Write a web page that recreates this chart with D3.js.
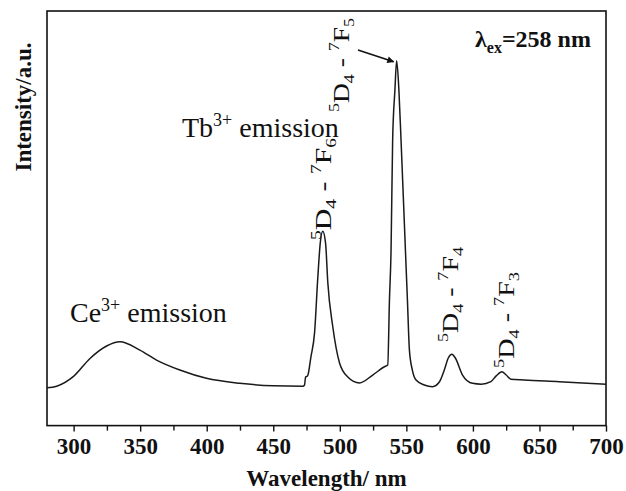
<!DOCTYPE html>
<html>
<head>
<meta charset="utf-8">
<script src="https://cdn.jsdelivr.net/npm/d3@7/dist/d3.min.js"></script>
<style>
  html, body { margin: 0; padding: 0; background: #fff; }
  svg { display: block; }
  text, tspan { font-family: "Liberation Serif", "Times New Roman", serif; fill: #111; }
</style>
</head>
<body>
<svg id="chart" width="626" height="491"></svg>
<script>
// Emission spectrum (λex = 258 nm)
const wavelength = [280, 287.3, 299.7, 312.3, 324.8, 334.8, 349.8, 362.3, 379.8, 399.8, 424.8, 449.8,
  472.2, 473.5, 474.3, 475.8, 478.3, 481, 483.5, 485.3, 487.2, 489.3, 491, 494.7, 499.8, 505.8,
  514.8, 524.7, 533.5, 536, 537.3, 538.5, 539.7, 541.4, 542.7, 544.4, 546, 549.3, 550.8, 552.3,
  554.5, 557.3, 563.5, 569.7, 574.8, 578.5, 581.5, 584.3, 586.8, 592.2, 599.7, 606.3, 613.5,
  617.5, 621.8, 625, 628.5, 638.5, 664.8, 700];
const intensity = [91, 95, 118, 162, 192, 202, 182, 158, 134, 114, 102, 96,
  95, 98, 117, 120, 166, 223, 359, 440, 469, 440, 344, 239, 151, 118,
  103, 122, 142, 146, 303, 423, 689, 809, 880, 809, 689, 423, 303, 182,
  134, 110, 98, 94, 105, 134, 163, 172, 163, 122, 102, 100, 106,
  120, 130, 122, 112, 110, 106, 100];

const xTicks = [300, 350, 400, 450, 500, 550, 600, 650, 700];
const xMinorTicks = [325, 375, 425, 475, 525, 575, 625, 675];
const xDomain = [280, 700];
const yDomain = [0, 1000];

const svg = d3.select("#chart");
const m = { left: 47, right: 20, top: 11, bottom: 65.4 };
const W = 626, H = 491;
const x = d3.scaleLinear().domain(xDomain).range([m.left, W - m.right]);
const y = d3.scaleLinear().domain(yDomain).range([H - m.bottom, m.top]);
const SERIF = '"Liberation Serif", "Times New Roman", serif';

// frame
svg.append("rect")
  .attr("x", m.left).attr("y", m.top)
  .attr("width", W - m.right - m.left).attr("height", H - m.bottom - m.top)
  .attr("fill", "none").attr("stroke", "#111").attr("stroke-width", 1.6);

// bottom axis
const gx = svg.append("g").attr("transform", `translate(0,${H - m.bottom})`);
gx.call(d3.axisBottom(x).tickValues(xTicks).tickSize(6).tickPadding(6).tickFormat(d3.format("d")));
gx.append("g").call(d3.axisBottom(x).tickValues(xMinorTicks).tickSize(5).tickFormat(""));
gx.selectAll(".domain").remove();
gx.selectAll("line").attr("stroke", "#111").attr("stroke-width", 1.4);
gx.selectAll("text")
  .style("font-family", SERIF)
  .style("font-weight", "bold").style("font-size", "23px").attr("fill", "#111");

// axis titles
svg.append("text")
  .attr("x", (x(280) + x(700)) / 2).attr("y", 486)
  .attr("text-anchor", "middle")
  .style("font-family", SERIF)
  .style("font-weight", "bold").style("font-size", "23px")
  .text("Wavelength/ nm");

svg.append("text")
  .attr("transform", "translate(31,107) rotate(-90)")
  .attr("text-anchor", "middle")
  .style("font-family", SERIF)
  .style("font-weight", "bold").style("font-size", "23px")
  .text("Intensity/a.u.");

// spectrum line
const pts = wavelength.map((w, i) => [w, intensity[i]]);
svg.append("path")
  .datum(pts)
  .attr("fill", "none").attr("stroke", "#1a1a1a").attr("stroke-width", 1.5)
  .attr("stroke-linejoin", "round")
  .attr("d", d3.line().x(d => x(d[0])).y(d => y(d[1])).curve(d3.curveMonotoneX));

// λex label
const lam = svg.append("text").attr("x", 475).attr("y", 47)
  .style("font-family", SERIF).style("font-weight", "bold");
lam.append("tspan").attr("font-size", 24).text("λ");
lam.append("tspan").attr("font-size", 16).attr("dy", 6).text("ex");
lam.append("tspan").attr("font-size", 24).attr("dy", -6).text("=258 nm");

// Ce / Tb labels
function emissionLabel(xp, yp, ion) {
  const t = svg.append("text").attr("x", xp).attr("y", yp).style("font-family", SERIF);
  t.append("tspan").attr("font-size", 28).text(ion);
  t.append("tspan").attr("font-size", 18).attr("dy", -11).text("3+");
  t.append("tspan").attr("font-size", 28).attr("dy", 11).text(" emission");
}
emissionLabel(70, 322, "Ce");
emissionLabel(182, 137, "Tb");

// transition labels (rotated)
const transitions = [
  { f: "6", x: 331, y: 240, len: 102 },
  { f: "5", x: 349, y: 112, len: 94 },
  { f: "4", x: 458, y: 342, len: 95 },
  { f: "3", x: 514, y: 368, len: 96 }
];
transitions.forEach(d => {
  const g = svg.append("g").attr("transform", `translate(${d.x},${d.y}) rotate(-90)`);
  const t = g.append("text").attr("x", 0).attr("y", 0).style("font-family", SERIF);
  const s = 24;
  t.append("tspan").attr("font-size", s * 0.65).attr("dy", -s * 0.4).text("5");
  t.append("tspan").attr("font-size", s).attr("dy", s * 0.4).text("D");
  t.append("tspan").attr("font-size", s * 0.65).attr("dy", s * 0.22).text("4");
  t.append("tspan").attr("font-size", s).attr("dy", -s * 0.22).text(" - ");
  t.append("tspan").attr("font-size", s * 0.65).attr("dy", -s * 0.4).text("7");
  t.append("tspan").attr("font-size", s).attr("dy", s * 0.4).text("F");
  t.append("tspan").attr("font-size", s * 0.65).attr("dy", s * 0.22).text(d.f);
  const L = t.node().getComputedTextLength();
  t.attr("transform", `scale(${d.len / L},1)`);
});

// arrow to main peak
const defs = svg.append("defs");
defs.append("marker").attr("id", "ah").attr("viewBox", "0 0 10 10")
  .attr("refX", 9).attr("refY", 5).attr("markerWidth", 9).attr("markerHeight", 7)
  .attr("markerUnits", "userSpaceOnUse").attr("orient", "auto")
  .append("path").attr("d", "M0,0 L10,5 L0,10 Z").attr("fill", "#111");
svg.append("line")
  .attr("x1", 358).attr("y1", 50).attr("x2", x(542.7) - 3).attr("y2", y(880) + 1)
  .attr("stroke", "#111").attr("stroke-width", 1.6).attr("marker-end", "url(#ah)");
</script>
</body>
</html>
